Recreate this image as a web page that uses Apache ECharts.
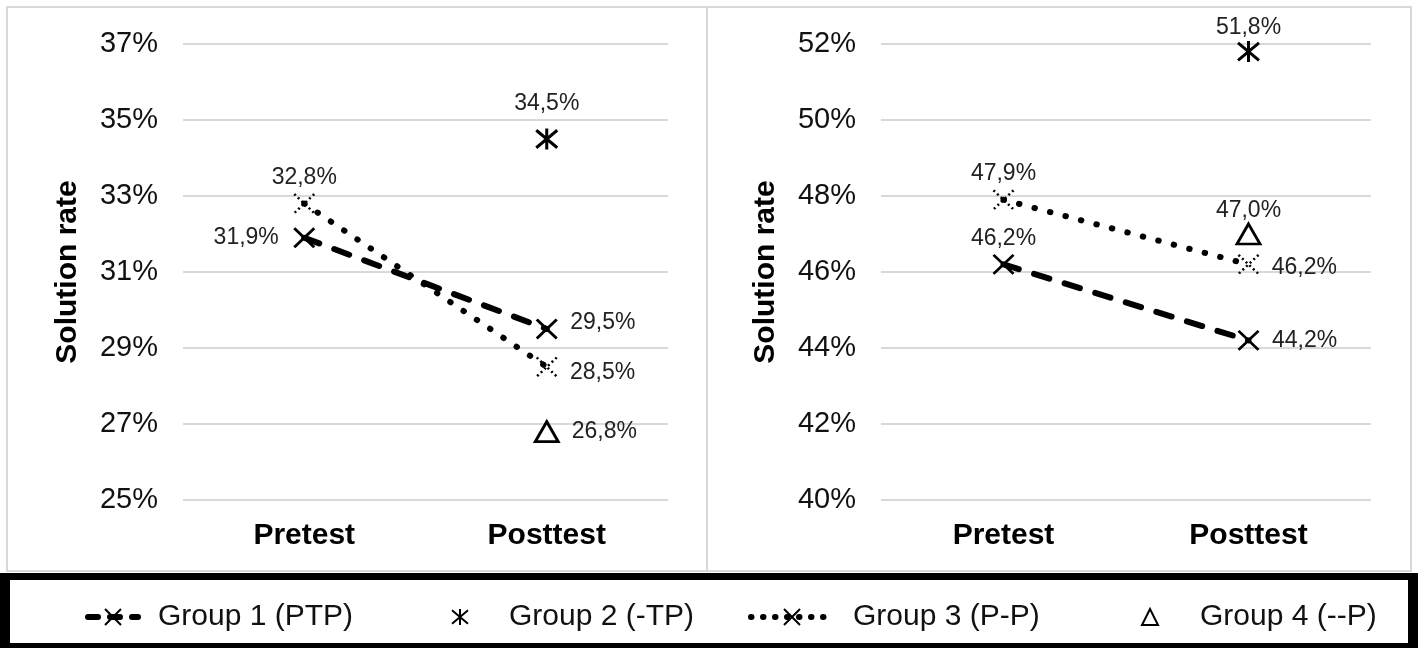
<!DOCTYPE html>
<html>
<head>
<meta charset="utf-8">
<script src="https://cdn.jsdelivr.net/npm/echarts@6/dist/echarts.min.js"></script>
<style>
html,body{margin:0;padding:0;background:#fff;}
#c{width:1418px;height:648px;}
</style>
</head>
<body>
<div id="c"></div>
<script>
// ---- data ----
const categories = ['Pretest', 'Posttest'];
const seriesNames = ['Group 1 (PTP)', 'Group 2 (-TP)', 'Group 3 (P-P)', 'Group 4 (--P)'];
// left panel (%)
const leftG1 = [31.9, 29.5];
const leftG2 = [null, 34.5];
const leftG3 = [32.8, 28.5];
const leftG4 = [null, 26.8];
// right panel (%)
const rightG1 = [46.2, 44.2];
const rightG2 = [null, 51.8];
const rightG3 = [47.9, 46.2];
const rightG4 = [null, 47.0];
// axis ranges
const leftAxis = { min: 25, max: 37, step: 2 };
const rightAxis = { min: 40, max: 52, step: 2 };

// ---- styling ----
const FONT = '"Liberation Sans", Arial, sans-serif';
const crossPath = 'path://M0,0L20,20M20,0L0,20';
const starPath = 'path://M0,0L20,20M20,0L0,20M10,-2L10,22';
const fmt = v => v.toFixed(1).replace('.', ',') + '%';

// left axis uses an offset so ticks start at its min
const leftBase = leftAxis.min;

const styles = [
  { symbol: crossPath, symbolSize: [20, 19], line: { width: 6, type: [16, 16], cap: 'round', opacity: 1 }, item: { color: '#000', borderColor: '#000', borderWidth: 2.8 } },
  { symbol: starPath, symbolSize: [21, 21], line: { width: 0, opacity: 0 }, item: { color: '#000', borderColor: '#000', borderWidth: 3 } },
  { symbol: crossPath, symbolSize: [20, 19], line: { width: 6, type: [0.5, 15.5], cap: 'round', opacity: 1 }, item: { color: '#000', borderColor: '#000', borderWidth: 2.5, borderType: [2, 3] } },
  { symbol: 'triangle', symbolSize: [23, 20], line: { width: 0, opacity: 0 }, item: { color: '#fff', borderColor: '#000', borderWidth: 2.8 } }
];

function makeSeries(idx, vals, base, labelCfg) {
  const st = styles[idx];
  return {
    name: seriesNames[idx],
    type: 'line',
    xAxisIndex: labelCfg.axis,
    yAxisIndex: labelCfg.axis,
    symbol: st.symbol,
    symbolSize: st.symbolSize,
    showAllSymbol: true,
    connectNulls: false,
    z: [2, 3, 4, 3][idx],
    color: '#000',
    lineStyle: Object.assign({ color: '#000' }, st.line),
    itemStyle: st.item,
    emphasis: { disabled: true },
    data: vals.map((v, i) => v == null ? null : {
      value: v - base,
      label: Object.assign({ show: true }, labelCfg.pos[i] || {})
    }),
    label: {
      show: true,
      fontFamily: FONT,
      fontSize: 23,
      color: '#222',
      formatter: p => fmt(vals[p.dataIndex])
    }
  };
}

const series = [
  makeSeries(0, leftG1, leftBase, { axis: 0, pos: [{ position: 'left', distance: 14 }, { position: 'right', distance: 12, offset: [0, -6] }] }),
  makeSeries(1, leftG2, leftBase, { axis: 0, pos: [null, { position: 'top', distance: 12 }] }),
  makeSeries(2, leftG3, leftBase, { axis: 0, pos: [{ position: 'top', distance: 4 }, { position: 'right', distance: 12, offset: [0, 6] }] }),
  makeSeries(3, leftG4, leftBase, { axis: 0, pos: [null, { position: 'right', distance: 12 }] }),
  makeSeries(0, rightG1, 0, { axis: 1, pos: [{ position: 'top', distance: 3 }, { position: 'right', distance: 12 }] }),
  makeSeries(1, rightG2, 0, { axis: 1, pos: [null, { position: 'top', distance: 0 }] }),
  makeSeries(2, rightG3, 0, { axis: 1, pos: [{ position: 'top', distance: 4 }, { position: 'right', distance: 12, offset: [0, 3] }] }),
  makeSeries(3, rightG4, 0, { axis: 1, pos: [null, { position: 'top', distance: 1 }] })
];

function yAxis(gridIndex, rng, base) {
  return {
    type: 'value',
    gridIndex,
    min: rng.min - base,
    max: rng.max - base,
    interval: rng.step,
    name: 'Solution rate',
    nameLocation: 'middle',
    nameGap: 100,
    nameTextStyle: { fontFamily: FONT, fontSize: 30, fontWeight: 'bold', color: '#000' },
    axisLine: { show: false },
    axisTick: { show: false },
    axisLabel: { fontFamily: FONT, fontSize: 29, color: '#111', margin: 25, formatter: v => Math.round(v + base) + '%' },
    splitLine: { lineStyle: { color: '#d9d9d9', width: 2 } }
  };
}
function xAxis(gridIndex) {
  return {
    type: 'category',
    gridIndex,
    data: categories,
    boundaryGap: true,
    axisLine: { show: false },
    axisTick: { show: false },
    axisLabel: { fontFamily: FONT, fontSize: 30, fontWeight: 'bold', color: '#000', margin: 21 }
  };
}

function legend(name, left, width, pad, lineStyle) {
  return {
    data: [name],
    left, top: 602,
    padding: 0,
    itemWidth: width,
    itemHeight: 20,
    selectedMode: false,
    lineStyle: Object.assign({ color: '#000' }, lineStyle),
    textStyle: { fontFamily: FONT, fontSize: 30, color: '#111', padding: [0, 0, 0, pad] }
  };
}

const chart = echarts.init(document.getElementById('c'));
chart.setOption({
  animation: false,
  backgroundColor: '#fff',
  grid: [
    { left: 183, right: 750, top: 44, height: 456 },
    { left: 881, right: 47, top: 44, height: 456 }
  ],
  xAxis: [xAxis(0), xAxis(1)],
  yAxis: [yAxis(0, leftAxis, leftBase), yAxis(1, rightAxis, 0)],
  legend: [
    legend(seriesNames[0], 85, 50, 15, { width: 6, type: [10, 12], cap: 'round' }),
    legend(seriesNames[1], 448, 24, 32, { width: 0, opacity: 0 }),
    legend(seriesNames[2], 748, 82, 15, { width: 6, type: [0.5, 11.5], cap: 'round' }),
    legend(seriesNames[3], 1138, 24, 33, { width: 0, opacity: 0 })
  ],
  graphic: [
    { type: 'rect', shape: { x: 7, y: 7, width: 700, height: 564 }, style: { fill: 'none', stroke: '#d9d9d9', lineWidth: 2 }, silent: true, z: -10 },
    { type: 'rect', shape: { x: 707, y: 7, width: 704, height: 564 }, style: { fill: 'none', stroke: '#d9d9d9', lineWidth: 2 }, silent: true, z: -10 },
    { type: 'rect', shape: { x: 0, y: 573, width: 1418, height: 75 }, style: { fill: '#000' }, silent: true, z: -10 },
    { type: 'rect', shape: { x: 10, y: 580, width: 1398, height: 63 }, style: { fill: '#fff' }, silent: true, z: -9 }
  ],
  series
});
</script>
</body>
</html>
